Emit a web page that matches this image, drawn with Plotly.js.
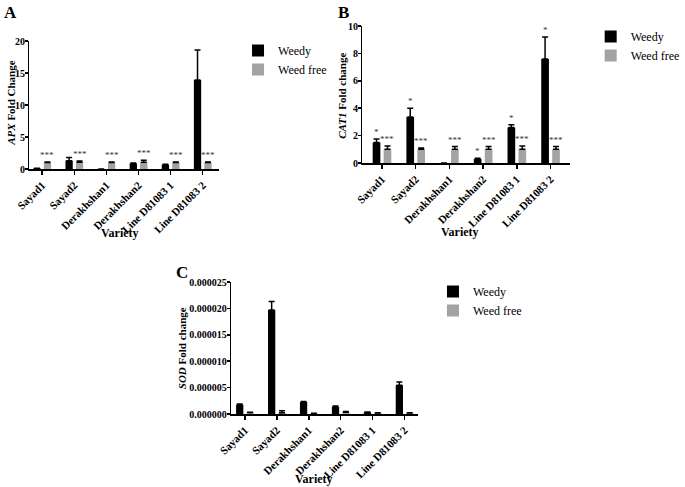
<!DOCTYPE html>
<html>
<head>
<meta charset="utf-8">
<script src="https://cdn.plot.ly/plotly-3.0.1.min.js"></script>
<style>html,body{margin:0;padding:0;background:#fff;}#chart{width:685px;height:487px;}</style>
</head>
<body>
<div id="chart"></div>
<script>
// ---------- data ----------
const varieties = ["Sayad1", "Sayad2", "Derakhshan1", "Derakhshan2", "Line D81083 1", "Line D81083 2"];
const seriesNames = ["Weedy", "Weed free"];

// Panel A: APX fold change
const apxWeedy = [0.1, 1.3, 0, 0.85, 0.65, 13.9];
const apxWeedyErr = [0.02, 0.5, 0, 0.08, 0.08, 4.7];
const apxWeedFree = [1.0, 1.05, 1.0, 1.05, 1.0, 1.0];
const apxWeedFreeErr = [0.1, 0.2, 0.08, 0.3, 0.08, 0.1];
const apxWeedyStars = ["", "", "", "", "", ""];
const apxWeedFreeStars = ["***", "***", "***", "***", "***", "***"];

// Panel B: CAT1 fold change
const catWeedy = [1.5, 3.35, 0, 0.3, 2.6, 7.6];
const catWeedyErr = [0.25, 0.65, 0, 0.05, 0.2, 1.6];
const catWeedFree = [1.0, 1.0, 1.0, 1.0, 1.0, 1.0];
const catWeedFreeErr = [0.25, 0.1, 0.2, 0.2, 0.25, 0.2];
const catWeedyStars = ["*", "*", "", "*", "*", "*"];
const catWeedFreeStars = ["***", "***", "***", "***", "***", "***"];

// Panel C: SOD fold change
const sodWeedy = [1.75e-6, 1.97e-5, 2.25e-6, 1.35e-6, 0.35e-6, 5.45e-6];
const sodWeedyErr = [0.15e-6, 1.6e-6, 0.1e-6, 0.15e-6, 0.05e-6, 0.6e-6];
const sodWeedFree = [0.3e-6, 0.25e-6, 0.1e-6, 0.35e-6, 0.2e-6, 0.2e-6];
const sodWeedFreeErr = [0.05e-6, 0.35e-6, 0.02e-6, 0.1e-6, 0.05e-6, 0.05e-6];

// ---------- style ----------
const SERIF = "Liberation Serif, Times New Roman, serif";
const BLACK = "#000000";
const GREY = "#a3a3a3";
const BARGAP = 0.35, GROUPGAP = 0.3;
const OFF = (1 - BARGAP) / 4;

function bar(name, y, err, color, xa, ya, legend) {
  return {
    type: "bar", name: name, x: varieties, y: y,
    xaxis: xa, yaxis: ya, legend: legend,
    marker: {color: color, line: {width: 0}},
    error_y: {type: "data", symmetric: false, array: err, arrayminus: err.map(() => 0),
              color: BLACK, thickness: 1.5, width: 3},
    hoverinfo: "x+y"
  };
}

const data = [
  bar(seriesNames[0], apxWeedy, apxWeedyErr, BLACK, "x", "y", "legend"),
  bar(seriesNames[1], apxWeedFree, apxWeedFreeErr, GREY, "x", "y", "legend"),
  bar(seriesNames[0], catWeedy, catWeedyErr, BLACK, "x2", "y2", "legend2"),
  bar(seriesNames[1], catWeedFree, catWeedFreeErr, GREY, "x2", "y2", "legend2"),
  bar(seriesNames[0], sodWeedy, sodWeedyErr, BLACK, "x3", "y3", "legend3"),
  bar(seriesNames[1], sodWeedFree, sodWeedFreeErr, GREY, "x3", "y3", "legend3")
];

const xTickFont = {family: SERIF, size: 11, color: BLACK, weight: "bold"};
const yTickFont = {family: SERIF, size: 10, color: BLACK, weight: "bold"};
function xAxis(domain, range, anchor) {
  return {domain: domain, range: range, anchor: anchor, type: "category",
    showline: true, linecolor: BLACK, linewidth: 1.5, ticks: "outside", ticklen: 4, tickwidth: 1.5,
    tickcolor: BLACK, tickangle: -45, tickfont: xTickFont, showgrid: false, zeroline: false, fixedrange: true};
}
function yAxis(domain, range, dtick, anchor, fmt) {
  return {domain: domain, range: range, dtick: dtick, anchor: anchor,
    showline: true, linecolor: BLACK, linewidth: 1.5, ticks: "outside", ticklen: 3, tickwidth: 1.5,
    ticklabelstandoff: -2,
    tickcolor: BLACK, tickfont: yTickFont, showgrid: false, zeroline: false, tickformat: fmt, fixedrange: true};
}

const W = 685, H = 487;
const px = v => v / W, py = v => 1 - v / H;

const annotations = [];
function stars(arr, vals, errs, xref, yref, off) {
  arr.forEach((s, i) => {
    if (!s) return;
    annotations.push({xref: xref, yref: yref, x: i + off, y: vals[i] + errs[i], text: s,
      showarrow: false, yanchor: "bottom", xanchor: "center", yshift: 0,
      font: {family: SERIF, size: 9, color: "#333"}});
  });
}
stars(apxWeedyStars, apxWeedy, apxWeedyErr, "x", "y", -OFF);
stars(apxWeedFreeStars, apxWeedFree, apxWeedFreeErr, "x", "y", OFF);
stars(catWeedyStars, catWeedy, catWeedyErr, "x2", "y2", -OFF);
stars(catWeedFreeStars, catWeedFree, catWeedFreeErr, "x2", "y2", OFF);

function label(text, x, y, size, angle, anchor) {
  annotations.push({xref: "paper", yref: "paper", x: px(x), y: py(y), text: text, showarrow: false,
    xanchor: anchor || "center", yanchor: "middle", textangle: angle || 0,
    font: {family: SERIF, size: size, color: BLACK, weight: "bold"}});
}
label("A", 2, 12, 17, 0, "left");
label("B", 343, 12, 17, 0, "left");
label("C", 178, 272, 17, 0, "left");
label("<i>APX</i> Fold Change", 11, 103, 11, -90);
label("<i>CAT1</i> Fold change", 349, 96, 11, -90);
label("<i>SOD</i> Fold change", 186, 348, 11, -90);
label("Variety", 123, 233, 12);
label("Variety", 470, 232, 12);
label("Variety", 321, 479, 12);

function legend(x, y) {
  return {x: px(x), y: py(y), xanchor: "left", yanchor: "top", bgcolor: "rgba(0,0,0,0)",
    borderwidth: 0, font: {family: SERIF, size: 12, color: BLACK}, tracegroupgap: 0};
}

const layout = {
  width: W, height: H, margin: {l: 0, r: 0, t: 0, b: 0},
  paper_bgcolor: "#fff", plot_bgcolor: "#fff",
  barmode: "group", bargap: BARGAP, bargroupgap: GROUPGAP,
  showlegend: true,
  xaxis: xAxis([px(30), px(224)], [-0.4, 5.52], "y"),
  yaxis: yAxis([py(169), py(41)], [0, 20], 5, "x"),
  xaxis2: xAxis([px(370), px(582)], [-0.58, 5.58], "y2"),
  yaxis2: yAxis([py(163), py(26)], [0, 10], 2, "x2"),
  xaxis3: xAxis([px(236), px(427)], [-0.43, 5.43], "y3"),
  yaxis3: yAxis([py(414), py(282)], [0, 0.000025], 0.000005, "x3", ".6f"),
  legend: legend(243, 36),
  legend2: legend(603, 22),
  legend3: legend(442, 277),
  annotations: annotations
};

Plotly.newPlot("chart", data, layout, {displayModeBar: false, staticPlot: true});
</script>
</body>
</html>
